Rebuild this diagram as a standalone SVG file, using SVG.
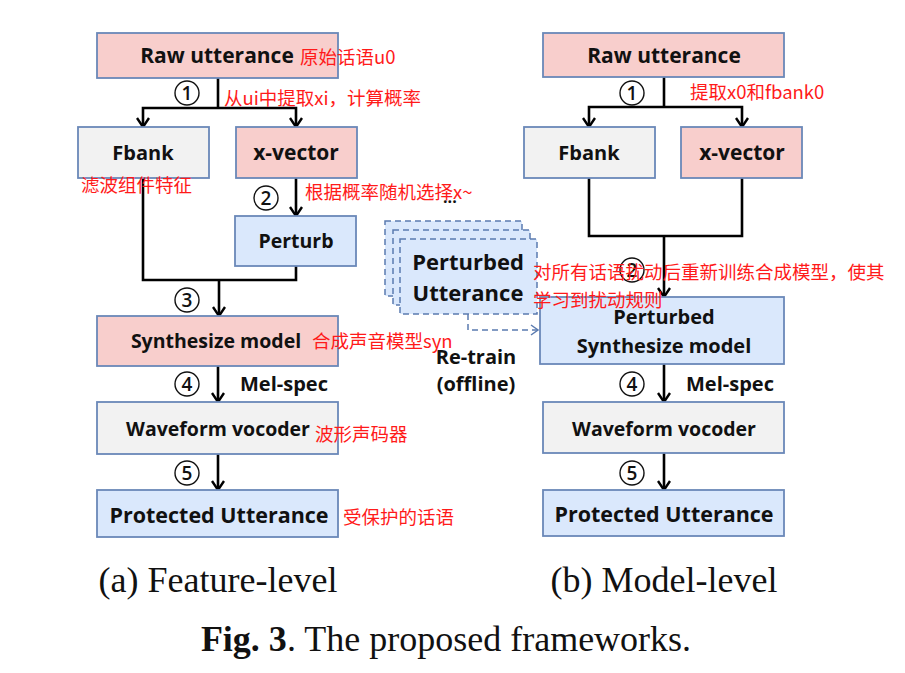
<svg xmlns="http://www.w3.org/2000/svg" width="905" height="673" viewBox="0 0 905 673">
<defs>
<style>
.box{stroke:#6a88b8;stroke-width:1.8}
.pink{fill:#f8cecc}
.gray{fill:#f2f2f2}
.blue{fill:#dae8fc}
.t{font-family:"Open Sans",Lato,sans-serif;font-weight:bold;font-size:21px;fill:#111;text-anchor:middle}
.lbl{font-family:"Open Sans",Lato,sans-serif;font-weight:bold;font-size:20px;fill:#111}
.red{font-family:"Noto Sans CJK SC","Noto Sans",sans-serif;font-size:18.5px;fill:#ff1a1a}
.num{font-family:"Open Sans",sans-serif;font-weight:600;font-size:19px;fill:#111;text-anchor:middle}
.circ{fill:#fff;stroke:#111;stroke-width:1.4}
.con{fill:none;stroke:#000;stroke-width:2.6}
.dash{fill:none;stroke:#5b7bb0;stroke-width:1.5;stroke-dasharray:6,4}
.cap{font-family:"Liberation Serif",serif;font-size:36px;fill:#111;text-anchor:middle}
</style>
<marker id="ah" viewBox="-12 -8 14 16" markerWidth="14" markerHeight="16" refX="0" refY="0" orient="auto" markerUnits="userSpaceOnUse">
<path d="M-9,-6 L0,0 L-9,6" fill="none" stroke="#000" stroke-width="2.4"/>
</marker>
<marker id="ahb" viewBox="-12 -8 14 16" markerWidth="14" markerHeight="16" refX="0" refY="0" orient="auto" markerUnits="userSpaceOnUse">
<path d="M-7,-5 L0,0 L-7,5" fill="none" stroke="#5b7bb0" stroke-width="1.5"/>
</marker>
</defs>
<rect width="905" height="673" fill="#fff"/>

<g id="connectors">
<path class="con" d="M218,78 V108"/>
<path class="con" d="M218,108 H143 V127" marker-end="url(#ah)"/>
<path class="con" d="M218,108 H296 V127" marker-end="url(#ah)"/>
<path class="con" d="M296,178 V216" marker-end="url(#ah)"/>
<path class="con" d="M143,178 V280 H296 V266"/>
<path class="con" d="M219,280 V316" marker-end="url(#ah)"/>
<path class="con" d="M218,366 V402" marker-end="url(#ah)"/>
<path class="con" d="M218,454 V490" marker-end="url(#ah)"/>
<path class="con" d="M664,77 V107"/>
<path class="con" d="M664,107 H589 V127" marker-end="url(#ah)"/>
<path class="con" d="M664,107 H742 V127" marker-end="url(#ah)"/>
<path class="con" d="M589,178 V236 H742 V178"/>
<path class="con" d="M664,236 V297" marker-end="url(#ah)"/>
<path class="con" d="M664,364 V402" marker-end="url(#ah)"/>
<path class="con" d="M664,453 V490" marker-end="url(#ah)"/>
<path class="dash" d="M468,314 V330 H538" marker-end="url(#ahb)"/>
</g>

<g id="step-circles">
<circle class="circ" cx="187" cy="93" r="12"/><text class="num" x="187" y="100">1</text>
<circle class="circ" cx="266" cy="198" r="12"/><text class="num" x="266" y="205">2</text>
<circle class="circ" cx="187" cy="300" r="12"/><text class="num" x="187" y="307">3</text>
<circle class="circ" cx="187" cy="384" r="12"/><text class="num" x="187" y="391">4</text>
<circle class="circ" cx="187" cy="473" r="12"/><text class="num" x="187" y="480">5</text>
<circle class="circ" cx="632" cy="93" r="12"/><text class="num" x="632" y="100">1</text>
<circle class="circ" cx="632" cy="270" r="12"/><text class="num" x="632" y="277">2</text>
<circle class="circ" cx="632" cy="384" r="12"/><text class="num" x="632" y="391">4</text>
<circle class="circ" cx="632" cy="473" r="12"/><text class="num" x="632" y="480">5</text>
</g>

<g id="a-raw"><rect class="box pink" x="97" y="33" width="241" height="45"/><text class="t" x="217" y="63">Raw utterance</text></g>
<g id="a-fbank"><rect class="box gray" x="78" y="127" width="131" height="51"/><text class="t" x="143" y="160" style="font-size:20px">Fbank</text></g>
<g id="a-xvector"><rect class="box pink" x="236" y="127" width="121" height="51"/><text class="t" x="296" y="160">x-vector</text></g>
<g id="a-perturb"><rect class="box blue" x="235" y="216" width="121" height="50"/><text class="t" x="296" y="248" style="font-size:19.5px">Perturb</text></g>
<g id="a-synth"><rect class="box pink" x="97" y="316" width="241" height="50"/><text class="t" x="216" y="348" style="font-size:19.5px">Synthesize model</text></g>
<g id="a-vocoder"><rect class="box gray" x="97" y="402" width="241" height="52"/><text class="t" x="218" y="436" style="font-size:19.5px">Waveform vocoder</text></g>
<g id="a-protected"><rect class="box blue" x="97" y="490" width="241" height="47"/><text class="t" x="219" y="523" style="font-size:21.5px">Protected Utterance</text></g>

<g id="b-raw"><rect class="box pink" x="543" y="33" width="241" height="44"/><text class="t" x="664" y="63">Raw utterance</text></g>
<g id="b-fbank"><rect class="box gray" x="524" y="127" width="131" height="51"/><text class="t" x="589" y="160" style="font-size:20px">Fbank</text></g>
<g id="b-xvector"><rect class="box pink" x="681" y="127" width="121" height="51"/><text class="t" x="742" y="160">x-vector</text></g>
<g id="b-perturbed-utt">
<rect class="dash" x="385" y="221" width="137" height="75" style="fill:#dae8fc"/>
<rect class="dash" x="393" y="230" width="137" height="75" style="fill:#dae8fc"/>
<rect class="dash" x="400" y="239" width="137" height="75" style="fill:#dae8fc"/>
<text class="t" x="468" y="270" style="font-size:22px">Perturbed</text>
<text class="t" x="468" y="301" style="font-size:22px">Utterance</text>
</g>
<g id="b-synth"><rect class="box blue" x="540" y="297" width="244" height="67"/><text class="t" x="664" y="324" style="font-size:20px">Perturbed</text><text class="t" x="664" y="353" style="font-size:20px">Synthesize model</text></g>
<g id="b-vocoder"><rect class="box gray" x="543" y="402" width="241" height="51"/><text class="t" x="664" y="436" style="font-size:19.5px">Waveform vocoder</text></g>
<g id="b-protected"><rect class="box blue" x="543" y="490" width="241" height="46"/><text class="t" x="664" y="522" style="font-size:21.5px">Protected Utterance</text></g>

<g id="labels">
<text class="lbl" x="240" y="391">Mel-spec</text>
<text class="lbl" x="686" y="391">Mel-spec</text>
<text class="lbl" x="476" y="364" text-anchor="middle">Re-train</text>
<text class="lbl" x="476" y="391" text-anchor="middle">(offline)</text>
<text class="lbl" x="443" y="203" style="font-size:16px">...</text>
</g>

<g id="annotations">
<text class="red" x="300" y="64">原始话语u0</text>
<text class="red" x="224" y="105">从ui中提取xi，计算概率</text>
<text class="red" x="81" y="192">滤波组件特征</text>
<text class="red" x="305" y="199">根据概率随机选择x~</text>
<text class="red" x="312" y="348">合成声音模型syn</text>
<text class="red" x="315" y="441">波形声码器</text>
<text class="red" x="343" y="524">受保护的话语</text>
<text class="red" x="690" y="99">提取x0和fbank0</text>
<text class="red" x="533" y="279">对所有话语扰动后重新训练合成模型，使其</text>
<text class="red" x="533" y="307">学习到扰动规则</text>
</g>

<g id="captions">
<text class="cap" x="218" y="592">(a) Feature-level</text>
<text class="cap" x="664" y="592">(b) Model-level</text>
<text class="cap" x="446" y="651"><tspan font-weight="bold">Fig. 3</tspan>. The proposed frameworks.</text>
</g>
</svg>
